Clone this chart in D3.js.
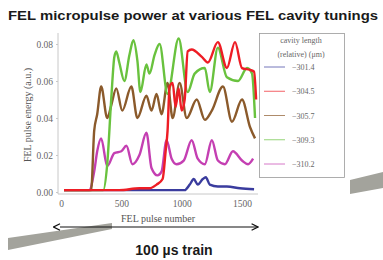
<!DOCTYPE html>
<html>
<head>
<meta charset="utf-8">
<script src="https://cdn.jsdelivr.net/npm/d3@7"></script>
<style>
  body { margin: 0; background: #fff; }
  svg { display: block; }
  .tick-label { font-family: "Liberation Serif", "DejaVu Serif", serif; font-size: 9.5px; fill: #666; }
  .axis-title { font-family: "Liberation Serif", "DejaVu Serif", serif; font-size: 10px; fill: #555; }
  .legend-text { font-family: "Liberation Serif", "DejaVu Serif", serif; font-size: 8px; fill: #666; }
  .headline { font-family: "Liberation Sans", Arial, sans-serif; font-weight: bold; fill: #1a1a1a; }
</style>
</head>
<body>
<div id="chart"></div>
<script>
const title = "FEL micropulse power at various FEL cavity tunings";
const trainLabel = "100 µs train";
const xTicks = [0, 500, 1000, 1500];
const yTicks = [0.00, 0.02, 0.04, 0.06, 0.08];
const seriesNames = ["−301.4", "−304.5", "−305.7", "−309.3", "−310.2"];

// [pulse number, pulse energy (a.u.)]
const cav3014 = [[25,0.001],[600,0.001],[1025,0.001],[1067,0.004],[1100,0.007],[1133,0.004],[1175,0.007],
  [1200,0.008],[1233,0.004],[1300,0.003],[1375,0.003],[1483,0.002],[1600,0.0015]];
const cav3045 = [[25,0.001],[483,0.001],[650,0.002],[733,0.002],[792,0.004],[842,0.007],[867,0.022],
  [883,0.033],[900,0.057],[925,0.059],[950,0.046],[975,0.056],[1000,0.044],[1025,0.05],[1050,0.076],
  [1083,0.077],[1167,0.073],[1217,0.07],[1300,0.081],[1375,0.067],[1442,0.081],[1500,0.067],
  [1567,0.066],[1600,0.065],[1617,0.05]];
const cav3057 = [[25,0.001],[250,0.001],[275,0.033],[300,0.042],[333,0.057],[383,0.04],[417,0.047],
  [458,0.056],[508,0.044],[583,0.057],[633,0.04],[708,0.052],[750,0.044],[792,0.053],[833,0.042],
  [883,0.059],[925,0.04],[983,0.059],[1042,0.04],[1125,0.05],[1192,0.039],[1250,0.044],[1342,0.057],
  [1417,0.038],[1500,0.05],[1567,0.035],[1608,0.029]];
const cav3093 = [[25,0.001],[350,0.001],[383,0.015],[417,0.051],[442,0.073],[458,0.076],[483,0.07],
  [525,0.06],[567,0.074],[600,0.082],[633,0.071],[658,0.054],[708,0.069],[733,0.064],[775,0.074],
  [817,0.08],[883,0.053],[975,0.083],[1050,0.054],[1108,0.064],[1192,0.067],[1233,0.054],[1300,0.078],
  [1375,0.062],[1467,0.06],[1542,0.067],[1583,0.064],[1608,0.04]];
const cav3102 = [[25,0.001],[233,0.001],[275,0.011],[300,0.022],[333,0.029],[383,0.014],[442,0.021],
  [500,0.022],[542,0.025],[592,0.015],[650,0.02],[708,0.032],[750,0.013],[800,0.009],[833,0.011],
  [875,0.028],[917,0.018],[958,0.015],[1017,0.017],[1083,0.028],[1133,0.018],[1192,0.015],[1250,0.028],
  [1300,0.017],[1358,0.015],[1425,0.022],[1500,0.017],[1550,0.015],[1592,0.018]];

const colors = ["#3a3c9e", "#ee1d25", "#8b5a2b", "#69c23e", "#c43fb2"];
const seriesData = [cav3014, cav3045, cav3057, cav3093, cav3102];

const svg = d3.select("#chart").append("svg")
    .attr("width", 383)
    .attr("height", 260);

// grey bands of the slide decoration
svg.append("polygon")
    .attr("points", "8,238 112,223 112,229 8,250")
    .attr("fill", "#a3a39c");
svg.append("polygon")
    .attr("points", "350,180 383,172 383,188 350,194")
    .attr("fill", "#a3a39c");

svg.append("text")
    .attr("class", "headline")
    .attr("x", 8)
    .attr("y", 20)
    .attr("font-size", 13)
    .attr("textLength", 370)
    .attr("lengthAdjust", "spacingAndGlyphs")
    .text(title);

const x = d3.scaleLinear().domain([0, 1500]).range([61, 242]);
const y = d3.scaleLinear().domain([0, 0.08]).range([192, 44]);

// axes
const yAxis = svg.append("g")
    .attr("transform", "translate(58,0)")
    .call(d3.axisLeft(y).tickValues(yTicks).tickFormat(d3.format(".2f")).tickSize(2).tickPadding(3));
const xAxis = svg.append("g")
    .attr("transform", "translate(0,194)")
    .call(d3.axisBottom(x).tickValues(xTicks).tickFormat(d3.format("d")).tickSize(0).tickPadding(6));
[xAxis, yAxis].forEach(a => {
    a.select(".domain").attr("stroke", "#c8c8c8");
    a.selectAll(".tick line").attr("stroke", "#c8c8c8");
    a.selectAll(".tick text").attr("class", "tick-label").attr("font-family", null).attr("font-size", null);
});
yAxis.select(".domain").attr("d", "M0,33V194");
xAxis.select(".domain").attr("d", "M58,0H258");

svg.append("text")
    .attr("class", "axis-title")
    .attr("transform", "translate(31,115) rotate(-90)")
    .attr("text-anchor", "middle")
    .text("FEL pulse energy (a.u.)");
svg.append("text")
    .attr("class", "axis-title")
    .attr("x", 158)
    .attr("y", 222)
    .attr("text-anchor", "middle")
    .text("FEL pulse number");

const line = d3.line()
    .x(d => x(d[0]))
    .y(d => y(d[1]))
    .curve(d3.curveMonotoneX);

const drawOrder = [0, 4, 2, 3, 1];
drawOrder.forEach(i => {
    svg.append("path")
        .datum(seriesData[i])
        .attr("fill", "none")
        .attr("stroke", colors[i])
        .attr("stroke-width", 2.4)
        .attr("stroke-linejoin", "round")
        .attr("d", line);
});

// legend
const legend = svg.append("g");
legend.append("rect")
    .attr("x", 259.5).attr("y", 33.5)
    .attr("width", 85).attr("height", 144)
    .attr("fill", "#fff")
    .attr("stroke", "#999")
    .attr("stroke-width", 0.8);
legend.append("text").attr("class", "legend-text")
    .attr("x", 301).attr("y", 43).attr("text-anchor", "middle")
    .text("cavity length");
legend.append("text").attr("class", "legend-text")
    .attr("x", 301).attr("y", 57).attr("text-anchor", "middle")
    .text("(relative) (μm)");
const legendY = d3.scalePoint().domain(seriesNames).range([67, 164]);
seriesNames.forEach((name, i) => {
    legend.append("line")
        .attr("x1", 264).attr("x2", 285)
        .attr("y1", legendY(name)).attr("y2", legendY(name))
        .attr("stroke", colors[i])
        .attr("stroke-opacity", 0.7)
        .attr("stroke-width", 1);
    legend.append("text").attr("class", "legend-text")
        .attr("x", 292).attr("y", legendY(name) + 3)
        .text(name);
});

// double headed arrow
const defs = svg.append("defs");
["start", "end"].forEach(k => {
    defs.append("marker")
        .attr("id", "arr-" + k)
        .attr("viewBox", "0 0 10 10")
        .attr("refX", k === "end" ? 9 : 1).attr("refY", 5)
        .attr("markerWidth", 8).attr("markerHeight", 8)
        .attr("markerUnits", "userSpaceOnUse")
        .attr("orient", "auto-start-reverse")
        .append("path")
        .attr("d", "M1,1L9,5L1,9")
        .attr("fill", "none")
        .attr("stroke", "#111")
        .attr("stroke-width", 1.6);
});
svg.append("line")
    .attr("x1", 60).attr("x2", 258)
    .attr("y1", 227).attr("y2", 227)
    .attr("stroke", "#111")
    .attr("stroke-width", 1.1)
    .attr("marker-start", "url(#arr-start)")
    .attr("marker-end", "url(#arr-end)");

svg.append("text")
    .attr("class", "headline")
    .attr("x", 174)
    .attr("y", 255)
    .attr("text-anchor", "middle")
    .attr("font-size", 14)
    .text(trainLabel);
</script>
</body>
</html>
